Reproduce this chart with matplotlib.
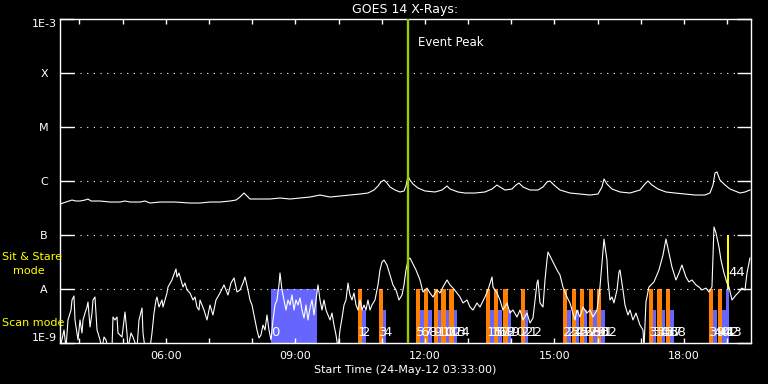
import numpy as np
import matplotlib
matplotlib.use('Agg')
import matplotlib.pyplot as plt
import matplotlib.transforms as mtransforms
from matplotlib.ticker import FixedLocator, NullLocator, FuncFormatter

# GOES 14 long channel (1-8 A), UT hour of day / flux in 1e-7 W/m^2
long_hours = [3.550, 3.619, 3.689, 3.758, 3.828, 3.920, 4.013, 4.129, 4.198, 4.268,
              4.384, 4.476, 4.708, 4.939, 5.055, 5.171, 5.402, 5.518, 5.634, 5.865,
              6.004, 6.213, 6.560, 6.792, 7.023, 7.255, 7.486, 7.625, 7.718, 7.810,
              7.880, 7.949, 8.181, 8.412, 8.644, 8.875, 9.107, 9.339, 9.570, 9.686,
              9.802, 10.033, 10.265, 10.496, 10.681, 10.820, 10.913, 10.982, 11.052, 11.121,
              11.191, 11.307, 11.422, 11.515, 11.561, 11.608, 11.654, 11.723, 11.839, 12.001,
              12.233, 12.395, 12.511, 12.580, 12.765, 12.927, 13.159, 13.390, 13.553, 13.668,
              13.738, 13.854, 14.016, 14.108, 14.178, 14.271, 14.433, 14.618, 14.734, 14.826,
              14.895, 14.988, 15.127, 15.358, 15.590, 15.822, 16.007, 16.099, 16.146, 16.215,
              16.331, 16.516, 16.748, 16.979, 17.095, 17.164, 17.257, 17.396, 17.581, 17.790,
              18.021, 18.253, 18.484, 18.600, 18.670, 18.716, 18.762, 18.832, 18.948, 19.063,
              19.179, 19.295, 19.411, 19.526]
long_flux = [3.75, 3.91, 4.08, 4.26, 4.44, 4.26, 4.26, 4.44, 4.64, 4.26,
             4.26, 4.26, 4.08, 4.08, 4.26, 4.08, 4.08, 4.26, 3.91, 4.08,
             4.08, 4.08, 3.91, 3.91, 4.08, 4.08, 4.26, 4.44, 5.05, 5.99,
             5.27, 4.64, 4.64, 4.64, 4.84, 4.64, 4.84, 5.05, 5.50, 5.27,
             5.05, 5.27, 5.50, 5.74, 5.99, 6.81, 8.08, 9.58, 10.4, 9.18,
             7.74, 6.81, 6.26, 6.53, 8.08, 12.4, 10.4, 8.80, 7.41, 6.53,
             6.26, 6.81, 8.08, 7.11, 6.26, 5.99, 5.99, 6.26, 7.11, 8.43,
             7.74, 6.81, 7.11, 8.43, 9.18, 7.74, 6.81, 6.81, 7.74, 9.58,
             10.0, 8.43, 6.81, 5.99, 5.74, 5.50, 5.74, 7.74, 10.9, 8.80,
             7.11, 6.26, 5.99, 6.81, 8.80, 10.0, 8.43, 7.11, 6.26, 5.99,
             5.74, 5.50, 5.50, 5.99, 8.43, 14.1, 14.7, 10.4, 8.43, 7.11,
             6.53, 5.99, 6.26, 6.81]

# short channel (0.5-4 A), flux in 1e-9 W/m^2
short_hours = [3.550, 3.643, 3.689, 3.735, 3.805, 3.828, 3.874, 3.897, 3.944, 3.967,
               4.013, 4.059, 4.083, 4.129, 4.175, 4.198, 4.245, 4.291, 4.314, 4.360,
               4.407, 4.430, 4.476, 4.522, 4.569, 4.615, 4.661, 4.754, 4.777, 4.823,
               4.870, 4.893, 4.986, 5.055, 5.101, 5.124, 5.194, 5.240, 5.333, 5.379,
               5.449, 5.472, 5.518, 5.634, 5.680, 5.727, 5.773, 5.796, 5.842, 5.912,
               5.935, 6.027, 6.051, 6.143, 6.166, 6.236, 6.259, 6.305, 6.352, 6.398,
               6.444, 6.491, 6.560, 6.630, 6.676, 6.722, 6.768, 6.792, 6.884, 6.954,
               7.023, 7.092, 7.162, 7.255, 7.347, 7.440, 7.509, 7.579, 7.648, 7.718,
               7.787, 7.834, 7.903, 7.949, 7.996, 8.065, 8.111, 8.158, 8.204, 8.250,
               8.297, 8.343, 8.389, 8.436, 8.482, 8.528, 8.574, 8.621, 8.644, 8.690,
               8.736, 8.783, 8.829, 8.875, 8.922, 8.968, 9.014, 9.061, 9.107, 9.153,
               9.200, 9.246, 9.292, 9.339, 9.385, 9.431, 9.477, 9.524, 9.570, 9.616,
               9.663, 9.709, 9.755, 9.802, 9.848, 9.894, 9.941, 9.987, 10.033, 10.080,
               10.126, 10.172, 10.219, 10.265, 10.311, 10.357, 10.404, 10.450, 10.496, 10.543,
               10.589, 10.635, 10.681, 10.728, 10.774, 10.843, 10.913, 10.959, 11.006, 11.052,
               11.121, 11.191, 11.260, 11.330, 11.399, 11.469, 11.515, 11.561, 11.608, 11.654,
               11.700, 11.793, 11.885, 11.955, 12.047, 12.117, 12.186, 12.279, 12.349, 12.418,
               12.511, 12.580, 12.650, 12.742, 12.812, 12.881, 12.974, 13.043, 13.113, 13.205,
               13.275, 13.390, 13.460, 13.553, 13.576, 13.668, 13.738, 13.807, 13.900, 13.969,
               14.039, 14.131, 14.201, 14.271, 14.363, 14.433, 14.502, 14.595, 14.618, 14.664,
               14.734, 14.780, 14.826, 14.849, 14.942, 15.058, 15.127, 15.196, 15.289, 15.358,
               15.428, 15.474, 15.520, 15.590, 15.659, 15.752, 15.822, 15.891, 15.984, 16.053,
               16.099, 16.146, 16.215, 16.238, 16.285, 16.331, 16.377, 16.447, 16.493, 16.516,
               16.586, 16.632, 16.701, 16.748, 16.817, 16.887, 16.979, 17.049, 17.072, 17.118,
               17.187, 17.303, 17.419, 17.512, 17.581, 17.650, 17.720, 17.812, 17.882, 17.951,
               18.044, 18.113, 18.183, 18.276, 18.345, 18.415, 18.507, 18.577, 18.646, 18.693,
               18.739, 18.809, 18.855, 18.924, 18.994, 19.040, 19.110, 19.202, 19.272, 19.341,
               19.411, 19.457, 19.503, 19.526]
short_flux = [0.8, 1.74, 0.8, 2.67, 4.08, 6.26, 7.42, 2.67, 1.53, 1.14,
              2.67, 1.53, 2.67, 3.59, 4.64, 5.74, 1.98, 3.59, 6.26, 7.11,
              1.74, 1.53, 1.14, 0.8, 1.29, 1.14, 0.8, 0.8, 3.03, 2.67,
              3.03, 1.53, 1.29, 3.75, 1.53, 0.8, 1.53, 1.29, 0.8, 2.67,
              4.45, 1.53, 0.8, 0.8, 1.53, 3.59, 6.26, 7.11, 4.64, 6.26,
              4.64, 8.43, 10.9, 14.7, 16.7, 23.5, 16.7, 19.8, 14.7, 10.9,
              12.9, 9.58, 8.43, 6.26, 7.11, 4.64, 4.08, 6.26, 4.08, 2.67,
              5.05, 3.30, 6.26, 8.43, 11.9, 7.74, 12.9, 16.0, 8.80, 9.58,
              12.9, 16.7, 9.58, 6.26, 5.05, 2.67, 1.74, 1.24, 1.41, 2.15,
              1.74, 3.30, 1.74, 1.14, 2.67, 5.05, 6.26, 11.9, 19.8, 9.58,
              6.26, 4.08, 6.26, 5.05, 7.74, 4.08, 6.26, 5.05, 6.81, 4.08,
              2.90, 5.05, 2.67, 4.45, 6.26, 3.30, 6.26, 11.9, 6.26, 4.08,
              6.26, 4.08, 3.30, 2.67, 3.59, 2.15, 1.41, 0.8, 1.74, 2.90,
              5.05, 6.26, 12.9, 7.74, 6.26, 8.43, 5.05, 4.08, 6.26, 4.08,
              5.05, 4.08, 6.26, 4.08, 5.05, 6.26, 11.9, 22.5, 31.6, 34.4,
              27.8, 18.2, 11.9, 9.58, 6.26, 7.74, 11.9, 22.5, 34.4, 37.5,
              31.6, 22.5, 14.7, 8.80, 10.4, 8.43, 7.11, 9.58, 8.43, 10.9,
              14.7, 11.9, 10.4, 8.43, 7.11, 5.51, 6.26, 4.64, 4.08, 5.51,
              4.64, 7.11, 9.58, 16.7, 10.9, 8.43, 6.26, 4.08, 5.51, 3.59,
              4.08, 3.03, 4.08, 2.67, 3.59, 2.35, 2.90, 12.9, 14.7, 5.51,
              4.64, 14.7, 34.4, 48.4, 34.4, 22.5, 18.2, 10.9, 7.11, 5.51,
              3.59, 2.67, 4.08, 3.03, 4.64, 3.59, 4.08, 3.03, 4.08, 10.9,
              30.3, 84.3, 34.4, 14.7, 6.26, 7.11, 5.51, 9.58, 20.6, 22.5,
              9.58, 5.05, 3.30, 4.08, 2.67, 3.59, 2.15, 1.74, 0.8, 5.74,
              10.9, 13.5, 22.5, 42.6, 84.3, 46.4, 25.5, 14.7, 19.8, 27.8,
              16.7, 13.5, 14.7, 11.9, 10.9, 9.58, 10.4, 8.80, 10.9, 141,
              109, 59.9, 34.4, 19.8, 12.9, 10.9, 6.26, 7.74, 8.80, 10.4,
              9.58, 19.8, 30.3, 37.5]

# observation sequence
block_start, block_end = "08:26", "09:30"
pair_starts = ["10:27", "10:56", "11:48", "11:59", "12:12", "12:23", "12:34",
               "13:25", "13:36", "13:49", "14:13", "15:12", "15:24", "15:35",
               "15:48", "15:59", "17:11", "17:23", "17:35", "18:35", "18:47"]
last_scan = "18:58"
last_stare = "19:00"
peak_time = "11:36"
orange_min = 5.8
blue_min = 4.8

ORANGE = '#ff8000'
BLUE = '#6666ff'


def hours(s):
    h, m = s.split(':')
    return int(h) + int(m) / 60.0


fig = plt.figure(figsize=(7.68, 3.84), dpi=100, facecolor='black')
ax = fig.add_axes([60 / 768, 41 / 384, 691 / 768, 324 / 384])
ax.set_facecolor('black')
ax.set_yscale('log')
ax.set_ylim(1e-9, 1e-3)
ax.set_xlim(3.55, 19.55)

for s in ax.spines.values():
    s.set_color('white')
    s.set_linewidth(1)

trans = mtransforms.blended_transform_factory(ax.transData, ax.transAxes)
a_level = 1 / 6
blue_top = 0.102

# bars
labels = []
t0 = hours(block_start)
ax.axvspan(t0, hours(block_end), ymin=0, ymax=a_level, color=BLUE, lw=0, antialiased=False, zorder=1)
labels.append((t0, 0.032))
for t in pair_starts:
    t = hours(t)
    tb = t + orange_min / 60
    ax.axvspan(t, tb, ymin=0, ymax=a_level, color=ORANGE, lw=0, antialiased=False, zorder=1)
    ax.axvspan(tb, tb + blue_min / 60, ymin=0, ymax=blue_top, color=BLUE, lw=0,
               antialiased=False, zorder=1)
    labels.append((t, 0.032))
    labels.append((tb, 0.032))
t = hours(last_scan)
ax.axvspan(t, t + blue_min / 60, ymin=0, ymax=a_level, color=BLUE, lw=0, antialiased=False, zorder=1)
labels.append((t, 0.032))
t = hours(last_stare)
ax.axvspan(t, t + 3 / 60, ymin=a_level, ymax=2 * a_level, color='#ffff00', lw=0,
           antialiased=False, zorder=1)
labels.append((t + 2 / 60, 0.219))

# flux curves
ax.plot(long_hours, np.array(long_flux) * 1e-7, color='white', lw=0.8, zorder=3)
ax.plot(short_hours, np.array(short_flux) * 1e-9, color='white', lw=0.8, zorder=3)

# event peak
pk = hours(peak_time)
ax.axvline(pk, color='#99cc00', lw=1.7, zorder=4)
ax.text(pk + 0.23, 0.926, 'Event Peak', transform=trans, color='white',
        fontsize=8.5, ha='left', va='center')

for i, (x, y) in enumerate(labels):
    ax.text(x, y, str(i), transform=trans, color='white', fontsize=9.5,
            ha='left', va='center', zorder=5)

# y axis
ax.set_yticks([1e-9, 1e-8, 1e-7, 1e-6, 1e-5, 1e-4, 1e-3])
ax.set_yticklabels(['1E-9', 'A', 'B', 'C', 'M', 'X', '1E-3'])
ax.yaxis.set_minor_locator(NullLocator())
ax.tick_params(axis='y', which='major', direction='in', length=10, width=1,
               colors='white', left=True, right=True, pad=11.5, labelsize=8)
ylabs = ax.get_yticklabels()
for lbl in ylabs:
    lbl.set_ha('center')
ylabs[0].set_va('bottom')
ylabs[-1].set_va('top')
ax.grid(axis='y', which='major', color='white', linestyle=(0, (1, 5)), linewidth=0.8)

# x axis
ax.xaxis.set_major_locator(FixedLocator([6, 9, 12, 15, 18]))
ax.xaxis.set_minor_locator(FixedLocator(list(range(4, 20))))
ax.xaxis.set_major_formatter(FuncFormatter(lambda v, p: '%02d:00' % int(v)))
ax.tick_params(axis='x', which='both', direction='in', length=3.5, width=1,
               colors='white', top=True, bottom=True, pad=5.8, labelsize=8)

ax.set_xlabel('Start Time (24-May-12 03:33:00)', color='white', fontsize=8, labelpad=3)
ax.set_title('GOES 14 X-Rays:', color='white', fontsize=9, pad=4)

fig.text(2 / 768, 1 - 257 / 384, 'Sit & Stare', color='#ffff00', fontsize=8, ha='left', va='center')
fig.text(13 / 768, 1 - 271 / 384, 'mode', color='#ffff00', fontsize=8, ha='left', va='center')
fig.text(2 / 768, 1 - 323 / 384, 'Scan mode', color='#ffff00', fontsize=8, ha='left', va='center')

fig.savefig('out.png', dpi=100, facecolor='black')
